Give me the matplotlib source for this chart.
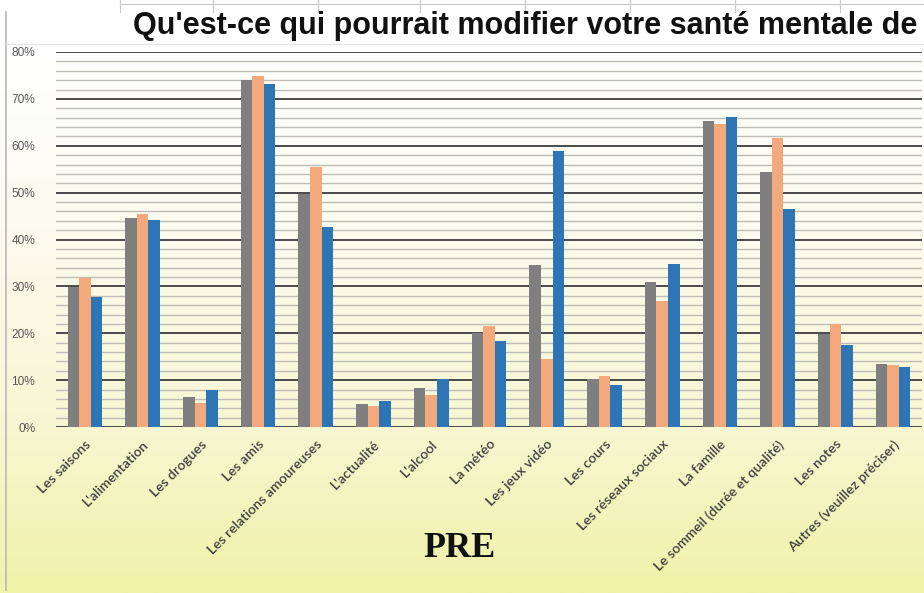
import numpy as np
import matplotlib
matplotlib.use("Agg")
import matplotlib.pyplot as plt
from matplotlib.colors import LinearSegmentedColormap
from matplotlib.lines import Line2D

categories = ["Les saisons", "L'alimentation", "Les drogues", "Les amis",
              "Les relations amoureuses", "L'actualité", "L'alcool", "La météo",
              "Les jeux vidéo", "Les cours", "Les réseaux sociaux", "La famille",
              "Le sommeil (durée et qualité)", "Les notes", "Autres (veuillez préciser)"]
series_gray = [29.9, 44.6, 6.4, 74.0, 49.7, 4.9, 8.3, 20.0, 34.5, 10.2, 30.9, 65.2, 54.4, 19.8, 13.4]
series_orange = [31.8, 45.4, 5.1, 74.8, 55.4, 4.5, 6.8, 21.5, 14.5, 10.9, 26.9, 64.6, 61.6, 22.0, 13.2]
series_blue = [27.7, 44.1, 7.9, 73.1, 42.6, 5.5, 10.2, 18.3, 58.8, 9.0, 34.8, 66.1, 46.5, 17.5, 12.8]
y_ticks = [0, 10, 20, 30, 40, 50, 60, 70, 80]
y_tick_labels = ["0%", "10%", "20%", "30%", "40%", "50%", "60%", "70%", "80%"]
title = "Qu'est-ce qui pourrait modifier votre santé mentale de"
subtitle = "PRE"

W, H = 924, 593
fig = plt.figure(figsize=(W / 100, H / 100), dpi=100)

# background gradient
bg = fig.add_axes([0, 0, 1, 1], zorder=-10)
bg.set_axis_off()
cmap = LinearSegmentedColormap.from_list("bg", ["#ffffff", "#fcfbef", "#f8f7d6", "#f0f2a8"])
grad = np.linspace(0, 1, 256).reshape(-1, 1)
top_frac = 45 / H
bg.imshow(grad, aspect="auto", cmap=cmap, extent=[0, 1, 0, 1 - top_frac], origin="upper")
bg.add_patch(plt.Rectangle((0, 1 - top_frac), 1, top_frac, color="white"))
bg.set_xlim(0, 1)
bg.set_ylim(0, 1)
# spreadsheet borders
bg.add_line(Line2D([6 / W, 6 / W], [0.005, 1 - 12 / H], color="#b8b8b8", lw=1.2))
bg.add_line(Line2D([6 / W, 1], [1 - 44 / H, 1 - 44 / H], color="#e4e4e4", lw=0.8))
bg.add_line(Line2D([120 / W, 1], [1 - 4 / H, 1 - 4 / H], color="#c8c8c8", lw=0.8))
for xv in [120, 213, 318, 420, 525, 630, 735, 840]:
    bg.add_line(Line2D([xv / W, xv / W], [1 - 12 / H, 1], color="#c8c8c8", lw=0.8))

ax = fig.add_axes([56 / W, 166 / H, 866 / W, 375 / H])
ax.set_facecolor("none")
x = np.arange(len(categories))
bw = 0.2
ax.bar(x - bw, series_gray, bw, color="#7f7f7f", zorder=3)
ax.bar(x, series_orange, bw, color="#f4a97c", zorder=3)
ax.bar(x + bw, series_blue, bw, color="#2e75b6", zorder=3)

ax.set_xlim(-0.5, len(categories) - 0.5)
ax.set_ylim(0, 80)
for v in np.arange(0, 81, 2):
    if v % 10 == 0:
        ax.axhline(v, color="#4a4a4a", lw=1.4, zorder=1)
    else:
        ax.axhline(v, color="#bdbdb5", lw=1.0, zorder=1)

ax.set_yticks(y_ticks)
ax.set_yticklabels(y_tick_labels, fontsize=8.6, color="#595959", family="Liberation Sans")
ax.tick_params(axis="y", length=0, pad=15)
ax.set_xticks(x)
ax.set_xticklabels(categories, rotation=45, ha="right", rotation_mode="anchor",
                   fontsize=10, color="#404040", family="Lato", fontweight="semibold")
ax.tick_params(axis="x", length=0, pad=8)
for s in ax.spines.values():
    s.set_visible(False)

fig.text(133 / W, 1 - 34 / H, title, fontsize=22, fontweight="bold",
         family="Liberation Sans", color="#111111", ha="left", va="baseline")
fig.text(460 / W, 1 - 557 / H, subtitle, fontsize=26, fontweight="bold",
         family="Liberation Serif", color="#111111", ha="center", va="baseline")

fig.savefig("out.png", dpi=100)
